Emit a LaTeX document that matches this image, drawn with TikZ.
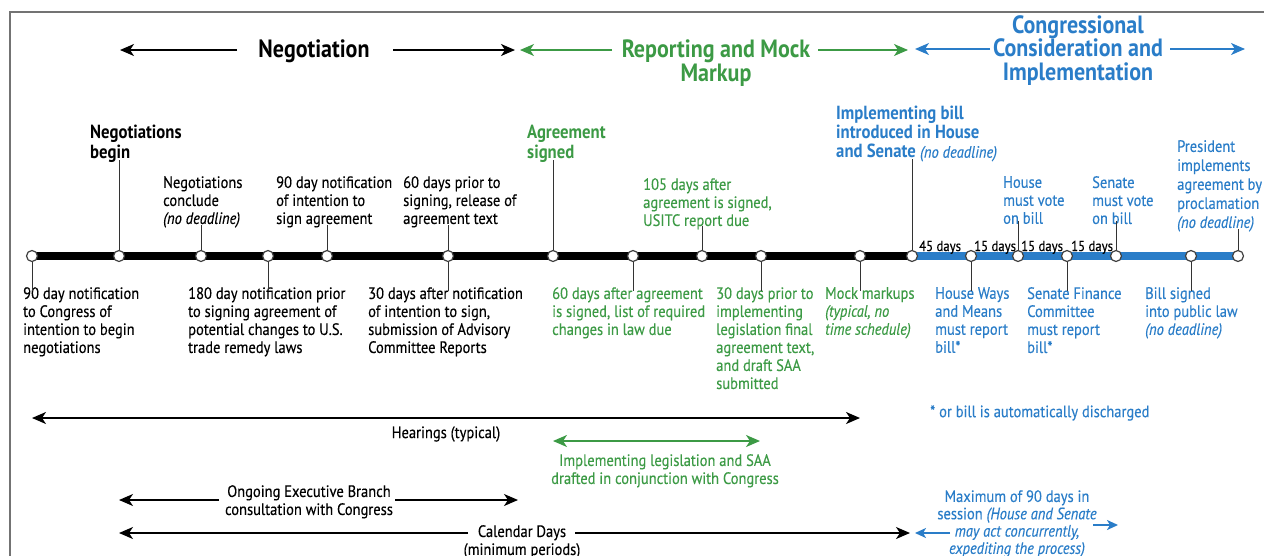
\documentclass[tikz,border=0pt]{standalone}
\usepackage{fontspec}
\setmainfont{PT Sans}[FakeStretch=0.88, UprightFeatures={FakeBold=0.3}, ItalicFeatures={FakeBold=0.3}]
\usetikzlibrary{arrows.meta}
\definecolor{tgreen}{HTML}{3C9A45}
\definecolor{tblue}{HTML}{2A7DC8}
\tikzset{
  lab/.style={inner sep=0pt, align=left, anchor=north west, font=\fontsize{16.5}{18}\selectfont},
  blab/.style={lab, font=\fontsize{19}{20}\selectfont\bfseries},
  ttl/.style={inner sep=0pt, align=center, anchor=north, font=\fontsize{25}{23.5}\selectfont\bfseries},
  dot/.style={circle, draw=black!75, fill=white, line width=1.2pt, minimum size=11pt, inner sep=0pt},
  tick/.style={line width=0.9pt, black!80},
  hd/.style={-{Stealth[length=14pt,width=12pt,inset=4pt]}, line width=1.6pt},
  span/.style={{Stealth[length=14pt,width=12pt,inset=4pt]}-{Stealth[length=14pt,width=12pt,inset=4pt]}, line width=1.8pt},
  smallhd/.style={-{Stealth[length=11pt,width=10pt,inset=3pt]}, line width=2pt},
  daylab/.style={inner sep=0pt, anchor=base west, font=\fontsize{14.5}{14}\selectfont},
}
\begin{document}
\begin{tikzpicture}[x=1pt,y=-1pt]
\useasboundingbox (0,0) rectangle (1264,555);
% frame
\draw[black!55, line width=1.3pt] (10,556) -- (10,12) -- (1265,12);

% ---------- phase titles ----------
\node[ttl] (neg) at (314,40) {Negotiation};
\node[ttl, text=tgreen] (rep) at (716,40) {Reporting and Mock\\Markup};
\node[ttl, text=tblue] (con) at (1078,15) {Congressional\\Consideration and\\Implementation};
\coordinate (n1a) at (237,50); \coordinate (n1b) at (120,50);
\coordinate (n2a) at (393,50); \coordinate (n2b) at (515,50);
\coordinate (g1a) at (612,50); \coordinate (g1b) at (520,50);
\coordinate (g2a) at (818,50); \coordinate (g2b) at (908,50);
\coordinate (b1a) at (990,49); \coordinate (b1b) at (915,49);
\coordinate (b2a) at (1170,49); \coordinate (b2b) at (1245,49);
\draw[hd] (n1a) -- (n1b);
\draw[hd] (n2a) -- (n2b);
\draw[hd, tgreen] (g1a) -- (g1b);
\draw[hd, tgreen] (g2a) -- (g2b);
\draw[hd, tblue] (b1a) -- (b1b);
\draw[hd, tblue] (b2a) -- (b2b);

% ---------- timeline ----------
\foreach \i/\x in {1/32,2/119,3/201,4/268,5/327,6/448,7/553,8/633,9/702,10/761,11/860,12/912,13/971,14/1018,15/1067,16/1116,17/1191,18/1238}
  \coordinate (c\i) at (\x,256);
\draw[line width=8pt] (c1) -- (c12);
\draw[line width=8pt, tblue] (c12) -- (c18);
\foreach \i in {1,...,18} \node[dot] (t\i) at (c\i) {};

% day counts
\node[daylab] (d1) at (919,251) {45 days};
\node[daylab] (d2) at (974,251) {15 days};
\node[daylab] (d3) at (1021,251) {15 days};
\node[daylab] (d4) at (1071,251) {15 days};

% ---------- labels above ----------
\node[blab] (u2) at (90,125) {Negotiations\\begin};
\node[lab] (u3) at (163,176) {Negotiations\\conclude\\\textit{(no deadline)}};
\node[lab] (u5) at (276,176) {90 day notification\\of intention to\\sign agreement};
\node[lab] (u6) at (403,176) {60 days prior to\\signing, release of\\agreement text};
\node[blab, text=tgreen] (u7) at (527,125) {Agreement\\signed};
\node[lab, text=tgreen] (u9) at (643,178) {105 days after\\agreement is signed,\\USITC report due};
\node[lab, text=tblue, font=\fontsize{16.5}{19}\selectfont] (u12) at (836,106) {\fontsize{19}{19}\selectfont\bfseries Implementing bill\\\fontsize{19}{19}\selectfont\bfseries introduced in House\\\fontsize{19}{19}\selectfont\bfseries and Senate \mdseries\itshape\fontsize{16.5}{19}\selectfont (no deadline)};
\node[lab, text=tblue] (u14) at (1003,176) {House\\must vote\\on bill};
\node[lab, text=tblue] (u16) at (1092,176) {Senate\\must vote\\on bill};
\node[lab, text=tblue, font=\fontsize{16.5}{19}\selectfont] (u18) at (1177,140) {President\\implements\\agreement by\\proclamation\\\textit{(no deadline)}};

\foreach \i in {2,3,5,6,7,9,12,14,16,18}
  \draw[tick] (t\i) -- ([yshift=3pt]t\i |- u\i.south);

% ---------- labels below ----------
\node[lab] (l1) at (23,287) {90 day notification\\to Congress of\\intention to begin\\negotiations};
\node[lab] (l4) at (188,287) {180 day notification prior\\to signing agreement of\\potential changes to U.S.\\trade remedy laws};
\node[lab] (l6) at (368,287) {30 days after notification\\of intention to sign,\\submission of Advisory\\Committee Reports};
\node[lab, text=tgreen] (l8) at (552,287) {60 days after agreement\\is signed, list of required\\changes in law due};
\node[lab, text=tgreen] (l10) at (716,287) {30 days prior to\\implementing\\legislation final\\agreement text,\\and draft SAA\\submitted};
\node[lab, text=tgreen] (l11) at (825,287) {Mock markups\\\textit{(typical, no}\\\textit{time schedule)}};
\node[lab, text=tblue] (l13) at (935,287) {House Ways\\and Means\\must report\\bill*};
\node[lab, text=tblue] (l15) at (1027,287) {Senate Finance\\Committee\\must report\\bill*};
\node[lab, text=tblue] (l17) at (1145,287) {Bill signed\\into public law\\\textit{(no deadline)}};

\foreach \i in {1,4,6,8,10,11,13,15,17}
  \draw[tick] (t\i) -- ([yshift=-4pt]t\i |- l\i.north);

\node[lab, text=tblue, anchor=west] (note) at (930,413) {* or bill is automatically discharged};

% ---------- spans ----------
\coordinate (hL) at (32,418); \coordinate (hR) at (860,418);
\draw[span] (hL) -- (hR);
\node[lab, anchor=center] (hear) at (446,434) {Hearings (typical)};

\coordinate (iL) at (553,441); \coordinate (iR) at (760,441);
\draw[span, tgreen] (iL) -- (iR);
\node[lab, anchor=north, align=center, text=tgreen] (impl) at (665,454) {Implementing legislation and SAA\\drafted in conjunction with Congress};

\node[lab, anchor=north, align=center] (ong) at (309,485) {Ongoing Executive Branch\\consultation with Congress};
\coordinate (o1a) at (219,500); \coordinate (o1b) at (119,500);
\coordinate (o2a) at (395,500); \coordinate (o2b) at (518,500);
\draw[hd] (o1a) -- (o1b);
\draw[hd] (o2a) -- (o2b);

\node[lab, anchor=north, align=center] (cal) at (522,525) {Calendar Days\\(minimum periods)};
\coordinate (k1a) at (468,533); \coordinate (k1b) at (119,533);
\coordinate (k2a) at (575,533); \coordinate (k2b) at (910,533);
\draw[hd] (k1a) -- (k1b);
\draw[hd] (k2a) -- (k2b);

\node[lab, anchor=north, align=center, text=tblue, font=\fontsize{16.5}{17.3}\selectfont] (max) at (1017,490) {Maximum of 90 days in\\session \textit{(House and Senate}\\\textit{may act concurrently,}\\\textit{expediting the process)}};
\coordinate (m1a) at (950,533); \coordinate (m1b) at (915,533);
\coordinate (m2a) at (1093,525); \coordinate (m2b) at (1118,525);
\draw[smallhd, tblue] (m1a) -- (m1b);
\draw[smallhd, tblue] (m2a) -- (m2b);
\end{tikzpicture}
\end{document}
